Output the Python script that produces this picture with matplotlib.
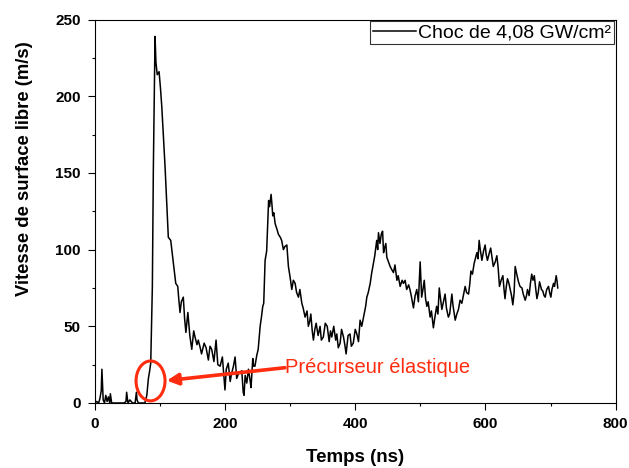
import matplotlib
matplotlib.use('Agg')
import matplotlib.pyplot as plt
from matplotlib.patches import Ellipse

plt.rcParams['font.family'] = ['Liberation Sans', 'DejaVu Sans']

# Temps (ns) and vitesse (m/s)
t_early = [0, 3, 6, 8, 10, 11, 13, 15, 17, 19, 21, 23, 24, 26, 30, 35, 40, 45,
           48, 49, 51, 54, 58, 62, 64, 65, 67, 70, 74, 77]
v_early = [0, 1, 0, 3, 8, 22, 2, 0, 5, 1, 4, 0, 6, 0, 0, 0, 0, 0,
           1, 7, 0, 2, 0, 0, 7, 2, 0, 0, 0, 0]

t_peak1 = [80, 82.4, 84, 86, 88.5, 90, 92.6, 94, 96, 98.8, 101, 103, 108, 113,
           116.7, 120.8, 124.4, 127.5, 129, 131, 133, 136, 138, 140, 143, 146,
           149, 152, 154, 157, 159, 162, 164, 168, 171, 174.5, 177, 179.6, 183,
           186.3, 189, 192.5, 196, 200, 202, 205, 208, 210, 213, 215.5, 218,
           220.6, 223, 225.8, 228, 229.3, 231, 233.5, 236, 238.5, 240, 242.7,
           244, 246, 248.8, 251, 254, 256, 258]
v_peak1 = [5, 16, 20, 26, 76, 152, 239, 222, 214, 216, 205, 193, 154, 108,
           106, 91, 78, 76, 68, 59, 66, 69, 55, 46, 59, 44,
           35, 47, 43, 38, 41, 36, 32, 39, 36, 28, 37, 35, 27,
           41, 25, 24, 30, 8.5, 22, 26, 14, 19, 24, 30, 16,
           19, 20, 21, 7, 5, 18, 13, 22, 15, 10, 29,
           24, 24, 31, 35, 50, 56, 63]

t_peak2 = [259.5, 261.6, 264, 267, 268.5, 270.8, 272, 273.4, 275, 277, 280, 282,
           285, 287, 289.7, 292, 295, 297.4, 300, 302.6, 305, 307.7, 310,
           312.8, 315, 318, 320, 323, 326, 328, 330, 331.8, 334, 335.8, 338,
           340, 343, 346, 348, 351, 354, 357, 360, 362, 364, 367, 370, 371.7,
           374, 376.8, 379, 382, 384, 386, 389, 392, 394, 397, 400, 402.5, 405,
           407.5, 410, 413.7, 416, 417.8, 420, 423, 425, 428, 430]
v_peak2 = [65, 93, 99, 132, 128, 136, 130, 122, 124, 117, 113, 110,
           108, 106, 100, 102, 103, 89, 82, 74, 80, 78, 72,
           69, 74, 65, 62, 56, 60, 50, 53, 58, 47, 41, 48,
           52, 44, 50, 41, 43, 52, 50, 40, 47, 43, 50, 41, 45,
           36, 39, 48, 43, 38, 32, 44, 45, 37, 39, 48, 45, 40,
           54, 50, 58, 63, 69, 72, 78, 84, 91, 96]

t_peak3 = [433, 434.5, 435.7, 438, 440, 442, 443.5, 445, 447, 448.5, 451, 453.6,
           456, 458.7, 461, 464, 466, 469, 472, 474, 476.6, 479, 482, 484, 486,
           489.4, 492, 494.5, 497, 499.7, 502, 504, 506, 508, 510, 512, 515,
           517, 520, 522, 525, 527, 529, 531, 533, 535, 538, 540, 543, 545,
           548.4, 550, 553.5, 556, 558.5, 561, 563.7, 566, 568.8, 571, 574, 576]
v_peak3 = [106, 100, 111, 104, 110, 112, 98, 101, 104, 95, 92, 89,
           87, 85, 90, 80, 83, 76, 80, 78, 80, 74, 77, 74, 70,
           62, 70, 74, 66, 92, 69, 74, 80, 68, 63, 66, 56,
           60, 49, 55, 63, 58, 75, 68, 61, 65, 71, 62, 56, 58,
           71, 64, 54, 58, 61, 67, 65, 70, 76, 72, 71, 78]

t_peak4 = [577.6, 580, 582.6, 585, 586.8, 588.5, 590.3, 592, 594.5, 597, 599.5,
           601, 603, 606, 608, 610, 612, 615, 617.5, 619.5, 621.5, 624, 626.7,
           628.5, 630, 632, 633.8, 636, 638, 640, 642, 644, 645.6, 648, 650.7,
           653, 656, 658, 661, 663, 664.5, 667, 669, 671, 673, 675, 677, 679,
           681, 683, 686, 688, 690, 691.7, 694, 696.8, 698.5, 700.4, 702,
           704.5, 706, 708.6, 710, 711]
v_peak4 = [86, 84, 91, 95, 98, 94, 106, 100, 93, 99, 103,
           97, 93, 98, 101, 95, 89, 92, 96, 88, 76, 80, 83,
           74, 68, 76, 81, 78, 74, 70, 64, 72, 89, 84, 79,
           76, 75, 71, 67, 70, 74, 70, 78, 84, 80, 83, 75, 68,
           72, 79, 74, 73, 70, 69, 74, 76, 72, 69, 74,
           78, 76, 83, 79, 75]

temps = t_early + t_peak1 + t_peak2 + t_peak3 + t_peak4
vitesse = v_early + v_peak1 + v_peak2 + v_peak3 + v_peak4

red = '#ff2d10'

fig = plt.figure(figsize=(6.29, 4.68), dpi=100)
ax = fig.add_axes([0.1506, 0.1389, 0.8283, 0.8194])

ax.plot(temps, vitesse, color='black', lw=1.1, label='Choc de 4,08 GW/cm²')

ax.set_xlim(0, 800)
ax.set_ylim(0, 250)
ax.set_xticks(range(0, 801, 200))
ax.set_xticks(range(100, 800, 200), minor=True)
ax.set_yticks(range(0, 251, 50))
ax.set_yticks(range(25, 250, 50), minor=True)
ax.tick_params(which='major', direction='out', length=5, width=0.8,
               labelsize=11, pad=5)
ax.tick_params(which='minor', direction='out', length=2.5, width=0.8)
for lab in ax.get_xticklabels() + ax.get_yticklabels():
    lab.set_fontweight('bold')
for sp in ax.spines.values():
    sp.set_linewidth(0.8)

ax.set_xlabel('Temps (ns)', fontsize=13.5, fontweight='bold', labelpad=13)
ax.set_ylabel('Vitesse de surface libre (m/s)', fontsize=13.3, fontweight='bold')
ax.yaxis.set_label_coords(-0.118, 0.61)

leg = ax.legend(loc='upper right', fontsize=14, frameon=True, fancybox=False,
                edgecolor='black', borderaxespad=0.1, borderpad=0.12,
                handlelength=2.2, handletextpad=0.15)
leg.get_frame().set_linewidth(0.8)

# Annotation: elastic precursor
ax.add_patch(Ellipse((85.7, 14.4), 44.5, 26, fill=False, edgecolor=red,
                     lw=2.2, zorder=5))
ax.annotate('', xy=(110.6, 14.6), xytext=(292, 23),
            arrowprops=dict(arrowstyle='-|>', color=red, lw=2.6,
                            mutation_scale=17, shrinkA=0, shrinkB=0))
ax.text(292, 23, 'Précurseur élastique', color=red, fontsize=14.5,
        ha='left', va='center')

fig.savefig('out.png', dpi=100)
